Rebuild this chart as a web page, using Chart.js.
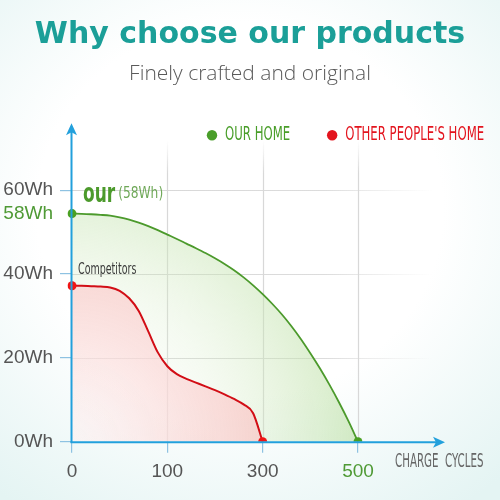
<!DOCTYPE html>
<html>
<head>
<meta charset="utf-8">
<script src="https://cdn.jsdelivr.net/npm/chart.js@4.4.1/dist/chart.umd.min.js"></script>
<style>
  html, body { margin: 0; padding: 0; }
  body {
    width: 500px; height: 500px;
    background: radial-gradient(ellipse 78% 72% at 48% 42%, #ffffff 52%, #e4f4f3 100%);
  }
  #wrap { width: 500px; height: 500px; position: relative; }
</style>
</head>
<body>
<div id="wrap"><canvas id="chart"></canvas></div>
<script>
// x categories (charge cycles); the axis is drawn with 0 / 100 / 300 / 500 evenly spaced
const cycleLabels = [
  "0", "10", "20", "30", "40", "50", "60", "70", "80", "90",
  "100", "120", "140", "160", "180", "200", "220", "240", "260", "280",
  "300", "320", "340", "360", "380", "400", "420", "440", "460", "480", "500"
];
const xTickLabels = ["0", "100", "300", "500"];

// capacity in Wh
const ourValues = [
  54.4, 54.35, 54.25, 54.1, 53.9, 53.5, 52.95, 52.25, 51.4, 50.45,
  49.4, 48.35, 47.25, 46.15, 45.0, 43.75, 42.4, 40.9, 39.2, 37.3,
  35.2, 32.9, 30.4, 27.6, 24.5, 21.1, 17.5, 13.6, 9.4, 4.9, 0
];
const otherValues = [
  37.2, 37.2, 37.1, 37.0, 36.8, 36.0, 34.2, 31.2, 26.3, 21.3,
  18.0, 16.1, 15.0, 14.1, 13.2, 12.3, 11.3, 10.2, 8.9, 6.8,
  0, null, null, null, null, null, null, null, null, null, null
];

const yTickValues = [0, 20, 40, 60];
const yTickLabels = ["0Wh", "20Wh", "40Wh", "60Wh"];
const ourStartLabel = "58Wh";

const GREEN = "#4c9a2c";
const RED = "#d20e16";
const AXIS_BLUE = "#22a0dc";
const NARROW = '"Liberation Sans Narrow", "DejaVu Sans Condensed", sans-serif';

Chart.defaults.font.family = '"Liberation Sans", Arial, sans-serif';

// only show a dot at the first and last value of a series
function endDot(ctx) {
  const d = ctx.dataset.data;
  let last = d.length - 1;
  while (last > 0 && d[last] == null) last--;
  return ctx.dataIndex === 0 || ctx.dataIndex === last ? 4.5 : 0;
}

function radialFill(stops) {
  return (ctx) => {
    const chart = ctx.chart;
    if (!chart.chartArea) return "rgba(0,0,0,0)";
    const ox = chart.scales.x.getPixelForValue(0);
    const oy = chart.scales.y.getPixelForValue(0);
    const r = stops[stops.length - 1][0];
    const g = chart.ctx.createRadialGradient(ox, oy, 0, ox, oy, r);
    stops.forEach(([d, c]) => g.addColorStop(d / r, c));
    return g;
  };
}

function drawText(ctx, text, x, y, font, color, sx = 1) {
  ctx.save();
  ctx.font = font;
  ctx.fillStyle = color;
  ctx.textBaseline = "middle";
  ctx.translate(x, y);
  ctx.scale(sx, 1);
  ctx.fillText(text, 0, 0);
  const w = ctx.measureText(text).width * sx;
  ctx.restore();
  return w;
}

const decor = {
  id: "decor",
  beforeDatasetsDraw(chart) {
    const { ctx, chartArea: a, scales: { x, y } } = chart;
    ctx.save();
    ctx.lineWidth = 1.2;
    // horizontal grid, fading out to the right
    const gridEnd = a.right + 75;
    yTickValues.forEach((v) => {
      if (v === 0) return;
      const py = Math.round(y.getPixelForValue(v)) + 0.5;
      const g = ctx.createLinearGradient(a.left, 0, gridEnd, 0);
      g.addColorStop(0, "#d6d6d6");
      g.addColorStop(0.7, "#dcdcdc");
      g.addColorStop(1, "rgba(225,225,225,0)");
      ctx.strokeStyle = g;
      ctx.beginPath();
      ctx.moveTo(a.left, py);
      ctx.lineTo(gridEnd, py);
      ctx.stroke();
    });
    // vertical grid, fading out at the top
    xTickLabels.slice(1).forEach((l) => {
      const px = Math.round(x.getPixelForValue(cycleLabels.indexOf(l))) + 0.5;
      const g = ctx.createLinearGradient(0, a.top - 8, 0, a.top + 25);
      g.addColorStop(0, "rgba(220,220,220,0)");
      g.addColorStop(1, "#d8d8d8");
      ctx.strokeStyle = g;
      ctx.beginPath();
      ctx.moveTo(px, a.top - 8);
      ctx.lineTo(px, a.bottom);
      ctx.stroke();
    });
    ctx.restore();
  },
  afterDatasetsDraw(chart) {
    const { ctx, chartArea: a, scales: { x, y } } = chart;
    const ox = x.getPixelForValue(0);
    const oy = y.getPixelForValue(0);
    ctx.save();
    ctx.strokeStyle = AXIS_BLUE;
    ctx.fillStyle = AXIS_BLUE;
    ctx.lineWidth = 2;
    // y axis with arrow
    const tipY = a.top - 25;
    ctx.beginPath();
    ctx.moveTo(ox - 0.5, oy + 1);
    ctx.lineTo(ox - 0.5, tipY + 8);
    ctx.stroke();
    ctx.beginPath();
    ctx.moveTo(ox - 0.5, tipY);
    ctx.lineTo(ox - 6, tipY + 12);
    ctx.lineTo(ox - 0.5, tipY + 9);
    ctx.lineTo(ox + 5, tipY + 12);
    ctx.closePath();
    ctx.fill();
    // x axis with arrow
    const tipX = a.right + 87;
    ctx.beginPath();
    ctx.moveTo(ox - 1.5, oy + 0.5);
    ctx.lineTo(tipX - 8, oy + 0.5);
    ctx.stroke();
    ctx.beginPath();
    ctx.moveTo(tipX, oy + 0.5);
    ctx.lineTo(tipX - 12, oy - 5);
    ctx.lineTo(tipX - 9, oy + 0.5);
    ctx.lineTo(tipX - 12, oy + 6);
    ctx.closePath();
    ctx.fill();
    ctx.restore();
  },
  afterDraw(chart) {
    const { ctx, chartArea: a, scales: { x, y } } = chart;
    const ox = x.getPixelForValue(0);
    const pyOur = y.getPixelForValue(ourValues[0]);
    const pyOther = y.getPixelForValue(otherValues[0]);

    // notes next to the start points
    const w = drawText(ctx, "our", ox + 11, pyOur - 19, `bold 27px ${NARROW}`, GREEN, 0.7);
    drawText(ctx, "(" + ourStartLabel + ")", ox + 14 + w, pyOur - 20, `16px ${NARROW}`, "#6fa858", 0.85);
    drawText(ctx, "Competitors", ox + 6, pyOther - 16, `16px ${NARROW}`, "#3a3a3a", 0.66);

    // axis name
    drawText(ctx, "CHARGE  CYCLES", a.right + 37, x.bottom - 29, `19px ${NARROW}`, "#666", 0.6);

    // legend
    let lx = ox + 140;
    const ly = a.top - 13;
    chart.data.datasets.forEach((ds) => {
      ctx.save();
      ctx.fillStyle = ds.legendColor;
      ctx.beginPath();
      ctx.arc(lx, ly, 5.2, 0, Math.PI * 2);
      ctx.fill();
      ctx.restore();
      const tw = drawText(ctx, ds.label, lx + 13, ly, `19px ${NARROW}`, ds.legendColor, 0.685);
      lx += 13 + tw + 42;
    });
  }
};

new Chart(document.getElementById("chart"), {
  type: "line",
  data: {
    labels: cycleLabels,
    datasets: [
      {
        label: "OUR HOME",
        data: ourValues,
        legendColor: "#4a9e2a",
        borderColor: GREEN,
        borderWidth: 1.8,
        backgroundColor: radialFill([[0, "rgba(255,255,255,0)"], [150, "rgba(215,236,200,0.25)"], [290, "rgba(185,222,160,0.62)"]]),
        fill: "origin",
        cubicInterpolationMode: "monotone",
        pointRadius: endDot,
        pointHoverRadius: endDot,
        pointBackgroundColor: "#4aa022",
        pointBorderWidth: 0,
        order: 2
      },
      {
        label: "OTHER PEOPLE'S HOME",
        data: otherValues,
        legendColor: "#e3141e",
        borderColor: RED,
        borderWidth: 2,
        backgroundColor: radialFill([[0, "rgba(255,240,240,0.5)"], [110, "rgba(252,215,215,0.65)"], [195, "rgba(250,195,195,0.7)"]]),
        fill: "origin",
        cubicInterpolationMode: "monotone",
        pointRadius: endDot,
        pointHoverRadius: endDot,
        pointBackgroundColor: "#f01414",
        pointBorderWidth: 0,
        order: 1
      }
    ]
  },
  options: {
    responsive: true,
    maintainAspectRatio: false,
    animation: false,
    layout: { padding: { left: 0, right: 0, top: 0, bottom: 8.5 } },
    plugins: {
      legend: { display: false },
      tooltip: { enabled: false },
      title: {
        display: true,
        text: "Why choose our products",
        color: "#1b9f98",
        font: { family: '"DejaVu Sans", sans-serif', size: 30, weight: "bold" },
        padding: { top: 17, bottom: 0 }
      },
      subtitle: {
        display: true,
        text: "Finely crafted and original",
        color: "#5a5a5a",
        font: { family: '"Open Sans", sans-serif', size: 21, weight: 300 },
        padding: { top: 8, bottom: 62 }
      }
    },
    scales: {
      x: {
        type: "category",
        offset: false,
        afterBuildTicks: (s) => {
          s.ticks = s.ticks.filter((t) => xTickLabels.includes(cycleLabels[t.value]));
        },
        ticks: {
          autoSkip: false,
          maxRotation: 0,
          padding: 8,
          font: { size: 19 },
          color: (c) => (cycleLabels[c.tick.value] === "500" ? "#4f9a35" : "#555")
        },
        grid: { drawOnChartArea: false, tickLength: 11, tickColor: "#8ec2e2", lineWidth: 1.2 },
        border: { display: false }
      },
      y: {
        type: "linear",
        min: 0,
        max: 70,
        afterBuildTicks: (s) => {
          s.ticks = yTickValues.concat([ourValues[0]]).map((v) => ({ value: v }));
        },
        afterFit: (s) => { s.width = 72; },
        ticks: {
          padding: 7,
          font: { size: 19 },
          callback: (v) => {
            const i = yTickValues.indexOf(v);
            return i >= 0 ? yTickLabels[i] : ourStartLabel;
          },
          color: (c) => (c.tick.value === ourValues[0] ? "#4f9a35" : "#555")
        },
        grid: {
          drawOnChartArea: false,
          tickLength: 12,
          lineWidth: 1.2,
          tickColor: (c) => (c.tick && c.tick.value === ourValues[0] ? "rgba(0,0,0,0)" : "#8ec2e2")
        },
        border: { display: false }
      },
      yRight: {
        type: "linear",
        position: "right",
        display: true,
        grid: { display: false },
        border: { display: false },
        ticks: { display: false },
        afterFit: (s) => { s.width = 142; }
      }
    }
  },
  plugins: [decor]
});
</script>
</body>
</html>
